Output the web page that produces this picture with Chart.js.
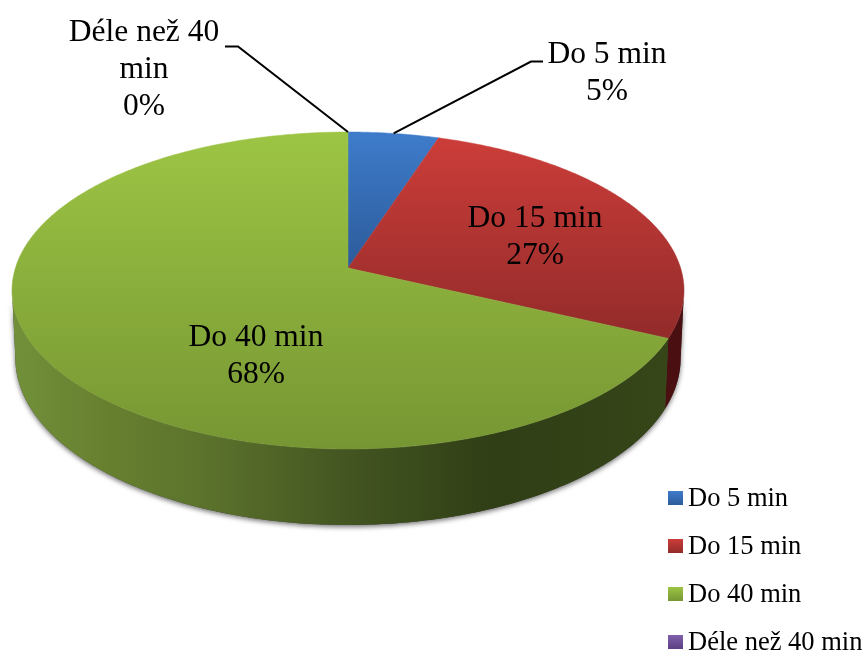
<!DOCTYPE html>
<html>
<head>
<meta charset="utf-8">
<title>Do 40 min</title>
<style>
  html, body { margin: 0; padding: 0; background: #fff; }
  canvas { display: block; }
</style>
<script src="https://cdn.jsdelivr.net/npm/chart.js@4/dist/chart.umd.min.js"></script>
</head>
<body>
<canvas id="myChart" width="866" height="652"></canvas>
<script>
const categories = ['Do 5 min', 'Do 15 min', 'Do 40 min', 'Déle než 40 min'];
const shares = [5, 27, 68, 0];
const labelRows = [['Do 5 min'], ['Do 15 min'], ['Do 40 min'], ['Déle než 40', 'min']];

// [top, bottom] of each slice's vertical gradient
const topColors = [['#3e7ccb', '#2c5b9a'], ['#cc3d39', '#922b2a'], ['#9dc544', '#769633'], ['#8060ac', '#5c3f83']];

// centre x and first baseline of each data label
const labelSpots = [[607, 62.5], [535, 227], [256, 346], [144, 41]];
// leader lines go rim -> elbow -> end
const leaders = { 0: [[531, 61.5], [543, 61.5]], 3: [[238, 46.5], [225, 46.5]] };

// perspective of the disc: maps the unit circle onto the tilted top face
const persp = -0.142;
const xScale = 332.6 / 268;
const yScale = 155.3 / 268;

function rim(el, angle, depth) {
    const u = Math.cos(angle);
    const v = Math.sin(angle);
    const w = 1 + persp * v;
    const r = el.outerRadius;
    const drop = depth ? 66 + 10 * v : 0;
    const shrink = depth ? 0.99 : 1;
    return {
        x: el.x + shrink * xScale * r * u / w,
        y: el.y + yScale * r * v / w + drop
    };
}

function traceRim(ctx, el, from, to, depth, moveFirst) {
    const steps = Math.max(2, Math.ceil(Math.abs(to - from) / 0.01));
    for (let i = 0; i <= steps; i++) {
        const p = rim(el, from + (to - from) * i / steps, depth);
        if (i === 0 && moveFirst) ctx.moveTo(p.x, p.y);
        else ctx.lineTo(p.x, p.y);
    }
}

function wallPath(ctx, el, from, to) {
    ctx.beginPath();
    traceRim(ctx, el, from, to, false, true);
    traceRim(ctx, el, to, from, true, false);
    ctx.closePath();
}

const pie3d = {
    id: 'pie3d',
    beforeDatasetDraw(chart) {
        const ctx = chart.ctx;
        const arcs = chart.getDatasetMeta(0).data;
        const first = arcs[0];
        const sideA = Math.asin(-persp);
        const sideB = Math.PI - sideA;

        // soft shadow under the whole side wall
        ctx.save();
        ctx.shadowColor = 'rgba(0,0,0,0.55)';
        ctx.shadowBlur = 5;
        ctx.shadowOffsetY = 2;
        ctx.fillStyle = '#444';
        wallPath(ctx, first, sideA, sideB);
        ctx.fill();
        ctx.restore();

        const greenWall = ctx.createLinearGradient(12, 0, 684, 0);
        greenWall.addColorStop(0, '#72903a');
        greenWall.addColorStop(0.15, '#667f2f');
        greenWall.addColorStop(0.28, '#5c732c');
        greenWall.addColorStop(0.5, '#435521');
        greenWall.addColorStop(0.72, '#2f3e15');
        greenWall.addColorStop(1, '#374719');
        const wallFills = ['#4a0f10', '#4a0f10', greenWall, '#3f2a5c'];

        arcs.forEach((el, i) => {
            const from = Math.max(el.startAngle, sideA);
            const to = Math.min(el.endAngle, sideB);
            if (shares[i] === 0 || to <= from) return;
            ctx.fillStyle = wallFills[i];
            wallPath(ctx, el, from, to);
            ctx.fill();
        });

        arcs.forEach((el, i) => {
            if (shares[i] === 0) return;
            const pts = [];
            const steps = Math.ceil((el.endAngle - el.startAngle) / 0.01);
            for (let s = 0; s <= steps; s++) {
                pts.push(rim(el, el.startAngle + (el.endAngle - el.startAngle) * s / steps, false));
            }
            const ys = pts.map(p => p.y).concat(el.y);
            const grad = ctx.createLinearGradient(0, Math.min(...ys), 0, Math.max(...ys));
            grad.addColorStop(0, topColors[i][0]);
            grad.addColorStop(1, topColors[i][1]);
            ctx.beginPath();
            ctx.moveTo(el.x, el.y);
            pts.forEach(p => ctx.lineTo(p.x, p.y));
            ctx.closePath();
            ctx.fillStyle = grad;
            ctx.strokeStyle = grad;
            ctx.lineWidth = 0.5;
            ctx.fill();
            ctx.stroke();
        });
        return false;
    },
    afterDraw(chart) {
        const ctx = chart.ctx;
        const arcs = chart.getDatasetMeta(0).data;
        ctx.save();

        // leader lines
        ctx.strokeStyle = '#000';
        ctx.lineWidth = 2;
        Object.keys(leaders).forEach(key => {
            const el = arcs[key];
            const start = rim(el, (el.startAngle + el.endAngle) / 2, false);
            ctx.beginPath();
            ctx.moveTo(start.x, start.y);
            leaders[key].forEach(p => ctx.lineTo(p[0], p[1]));
            ctx.stroke();
        });

        // data labels
        ctx.fillStyle = '#000';
        ctx.textAlign = 'center';
        ctx.textBaseline = 'alphabetic';
        ctx.font = '31.5px "Liberation Serif"';
        labelRows.forEach((rows, i) => {
            const spot = labelSpots[i];
            rows.concat(shares[i] + '%').forEach((row, r) => {
                ctx.fillText(row, spot[0], spot[1] + r * 37);
            });
        });

        // legend
        ctx.textAlign = 'left';
        ctx.font = '26.5px "Liberation Serif"';
        chart.data.labels.forEach((name, i) => {
            const y = 498 + i * 48;
            const grad = ctx.createLinearGradient(0, y - 7, 0, y + 7);
            grad.addColorStop(0, topColors[i][0]);
            grad.addColorStop(1, topColors[i][1]);
            ctx.fillStyle = grad;
            ctx.fillRect(668, y - 7, 15, 14);
            ctx.fillStyle = '#000';
            ctx.fillText(name, 688, y + 8);
        });
        ctx.restore();
    }
};

new Chart(document.getElementById('myChart'), {
    type: 'pie',
    data: {
        labels: categories,
        datasets: [{
            data: shares,
            backgroundColor: topColors.map(c => c[0]),
            borderWidth: 0
        }]
    },
    options: {
        responsive: false,
        animation: false,
        layout: { padding: { left: 12, right: 182, top: 0, bottom: 116 } },
        plugins: {
            legend: { display: false },
            tooltip: { enabled: false }
        }
    },
    plugins: [pie3d]
});
</script>
</body>
</html>
